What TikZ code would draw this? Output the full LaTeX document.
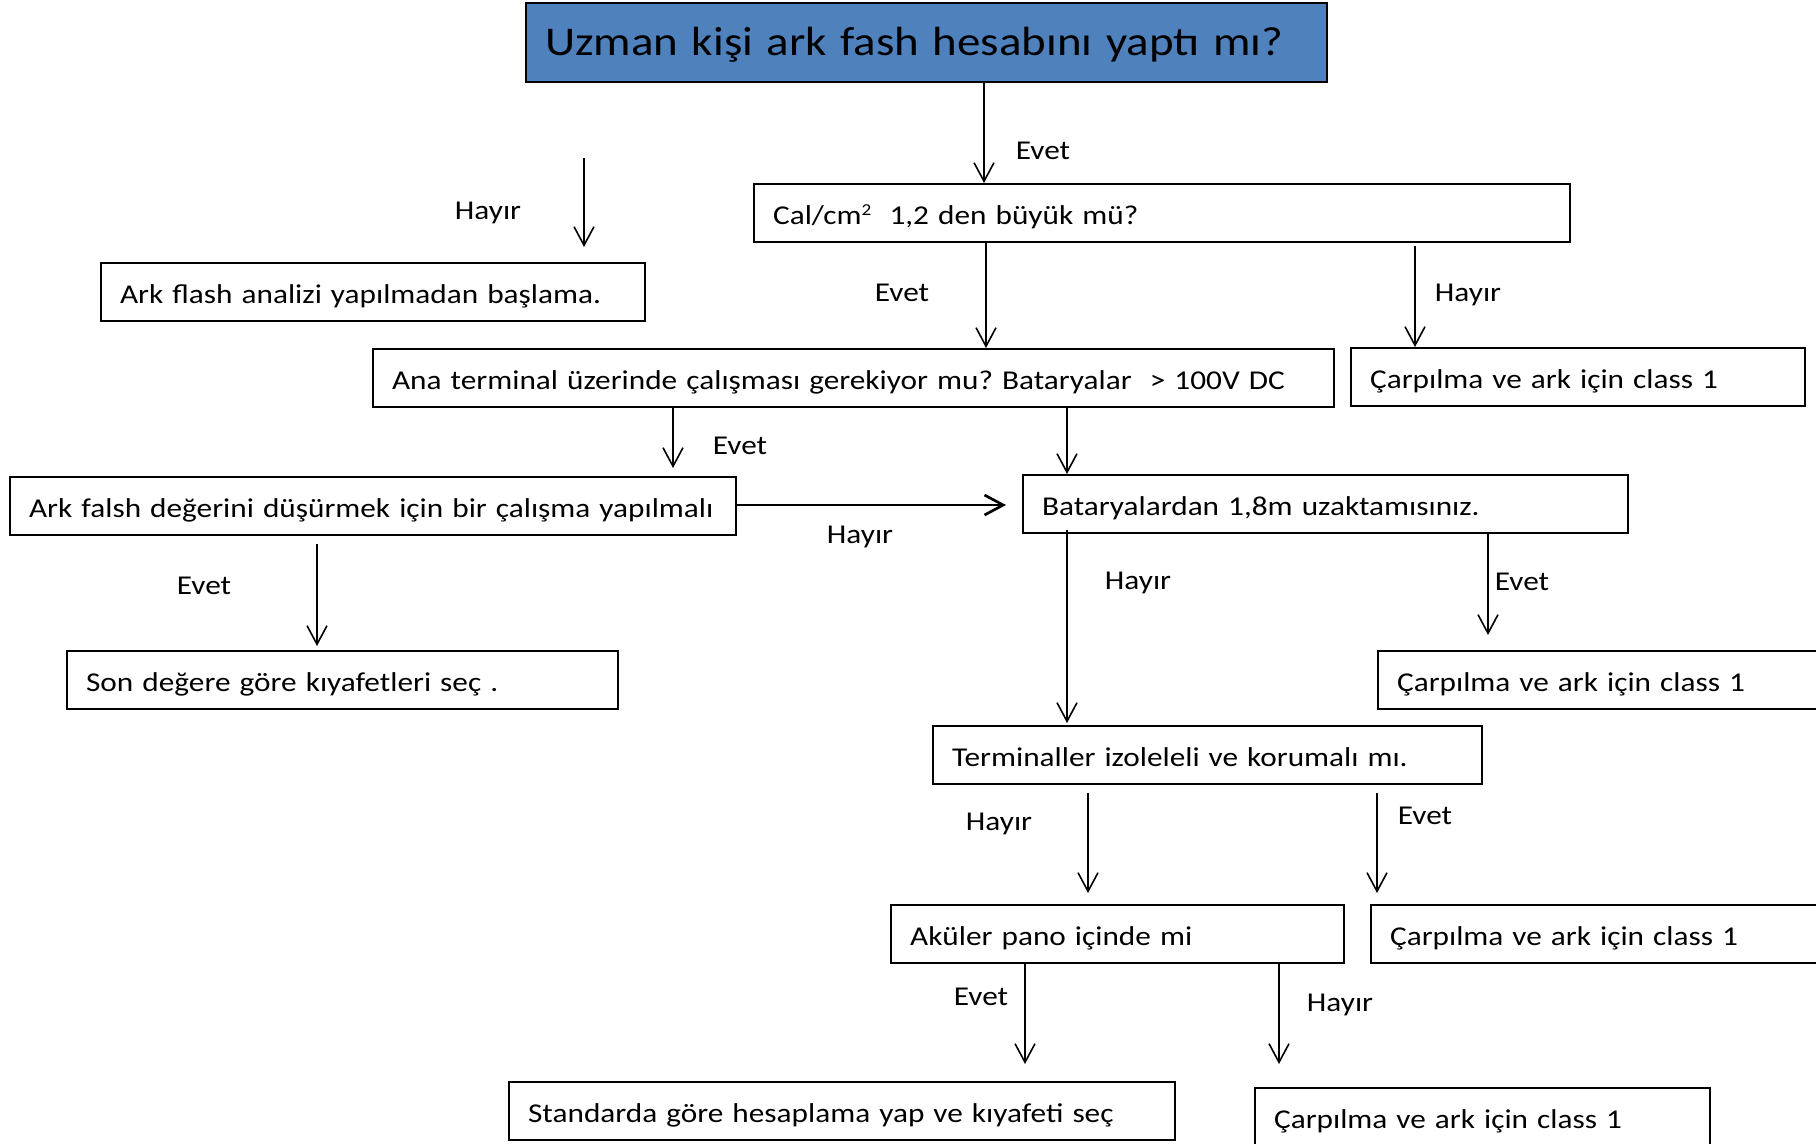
\documentclass[tikz,border=0pt]{standalone}
\usepackage{fontspec}
\setmainfont{Carlito}[FakeStretch=1.15]
\usetikzlibrary{arrows.meta,calc}
\definecolor{titleblue}{RGB}{79,129,189}
\frenchspacing
\begin{document}
\begin{tikzpicture}[x=0.75pt,y=-0.75pt,
  bx/.style={draw=black, line width=1.2pt, anchor=north west, inner xsep=14.5pt, inner ysep=0pt,
    minimum height=43.5pt, text height=17pt, text depth=0pt, align=left,
    font=\fontsize{20.4}{24}\selectfont,
    execute at begin node={\hbox\bgroup}, execute at end node={\egroup}},
  lbl/.style={inner sep=0pt, text height=13pt, text depth=0pt, font=\fontsize{20.4}{24}\selectfont},
  arr/.style={line width=1.2pt, -{Straight Barb[length=14pt,width=15pt]}}]
\useasboundingbox (0,0) rectangle (1816,1143);
\fill[white] (0,0) rectangle (1816,1143);
\clip (0,0) rectangle (1816,1143);

% boxes
\node[bx, fill=titleblue, minimum height=59.25pt, text height=20pt,
  font=\fontsize{30.6}{36}\selectfont, text width=571.75pt] (title) at (525,2) {Uzman kişi ark fash hesabını yaptı mı?};
\node[bx, text width=583pt] (cal) at (753,183) {Cal/cm\raisebox{6.5pt}{\fontsize{12.5}{13}\selectfont 2}\ \ 1,2 den büyük mü?};
\node[bx, text width=379pt] (ark1) at (100,262) {Ark flash analizi yapılmadan başlama.};
\node[bx, text width=691.75pt] (ana) at (372,348) {Ana terminal üzerinde çalışması gerekiyor mu? Bataryalar\ \ > 100V DC};
\node[bx, text width=311.5pt] (c1) at (1350,347) {Çarpılma ve ark için class 1};
\node[bx, text width=515.5pt] (falsh) at (9,476) {Ark falsh değerini düşürmek için bir çalışma yapılmalı};
\node[bx, text width=424.75pt] (bat) at (1022,474) {Bataryalardan 1,8m uzaktamısınız.};
\node[bx, text width=384.25pt] (son) at (66,650) {Son değere göre kıyafetleri seç .};
\node[bx, text width=318.25pt] (c2) at (1377,650) {Çarpılma ve ark için class 1};
\node[bx, text width=382.75pt] (term) at (932,725) {Terminaller izoleleli ve korumalı mı.};
\node[bx, text width=310.75pt] (aku) at (890,904) {Aküler pano içinde mi};
\node[bx, text width=323.5pt] (c3) at (1370,904) {Çarpılma ve ark için class 1};
\node[bx, text width=470.5pt] (std) at (508,1081) {Standarda göre hesaplama yap ve kıyafeti seç};
\node[bx, text width=312.25pt] (c4) at (1254,1087) {Çarpılma ve ark için class 1};

% labels
\node[lbl] (l1) at (1043,151) {Evet};
\node[lbl] (l2) at (488,211) {Hayır};
\node[lbl] (l3) at (902,293) {Evet};
\node[lbl] (l4) at (1468,293) {Hayır};
\node[lbl] (l5) at (740,446) {Evet};
\node[lbl] (l6) at (860,535) {Hayır};
\node[lbl] (l7) at (204,586) {Evet};
\node[lbl] (l8) at (1138,581) {Hayır};
\node[lbl] (l9) at (1522,582) {Evet};
\node[lbl] (l10) at (999,822) {Hayır};
\node[lbl] (l11) at (1425,816) {Evet};
\node[lbl] (l12) at (981,997) {Evet};
\node[lbl] (l13) at (1340,1003) {Hayır};

% connectors
\coordinate (h0) at (584,158);
\draw[arr] (title.south -| 984,0) -- (cal.north -| 984,0);
\draw[arr] (h0) -- ($(ark1.north -| 584,0)+(0,-15)$);
\draw[arr] (cal.south -| 986,0) -- (ana.north -| 986,0);
\draw[arr] ($(cal.south -| 1415,0)+(0,3)$) -- (c1.north -| 1415,0);
\draw[arr] (ana.south -| 673,0) -- ($(falsh.north -| 673,0)+(0,-8)$);
\draw[arr] (ana.south -| 1067,0) -- (bat.north -| 1067,0);
\draw[arr, line width=2pt] (falsh.east |- 0,505) -- ($(bat.west |- 0,505)+(-16,0)$);
\draw[arr] ($(falsh.south -| 317,0)+(0,8)$) -- ($(son.north -| 317,0)+(0,-4)$);
\draw[arr] ($(bat.south -| 1067,0)+(0,-4)$) -- ($(term.north -| 1067,0)+(0,-2)$);
\draw[arr] (bat.south -| 1488,0) -- ($(c2.north -| 1488,0)+(0,-15)$);
\draw[arr] ($(term.south -| 1088,0)+(0,8)$) -- ($(aku.north -| 1088,0)+(0,-11)$);
\draw[arr] ($(term.south -| 1377,0)+(0,8)$) -- ($(c3.north -| 1377,0)+(0,-11)$);
\draw[arr] (aku.south -| 1025,0) -- ($(std.north -| 1025,0)+(0,-17)$);
\draw[arr] (aku.south -| 1279,0) -- ($(c4.north -| 1279,0)+(0,-23)$);
\end{tikzpicture}
\end{document}
